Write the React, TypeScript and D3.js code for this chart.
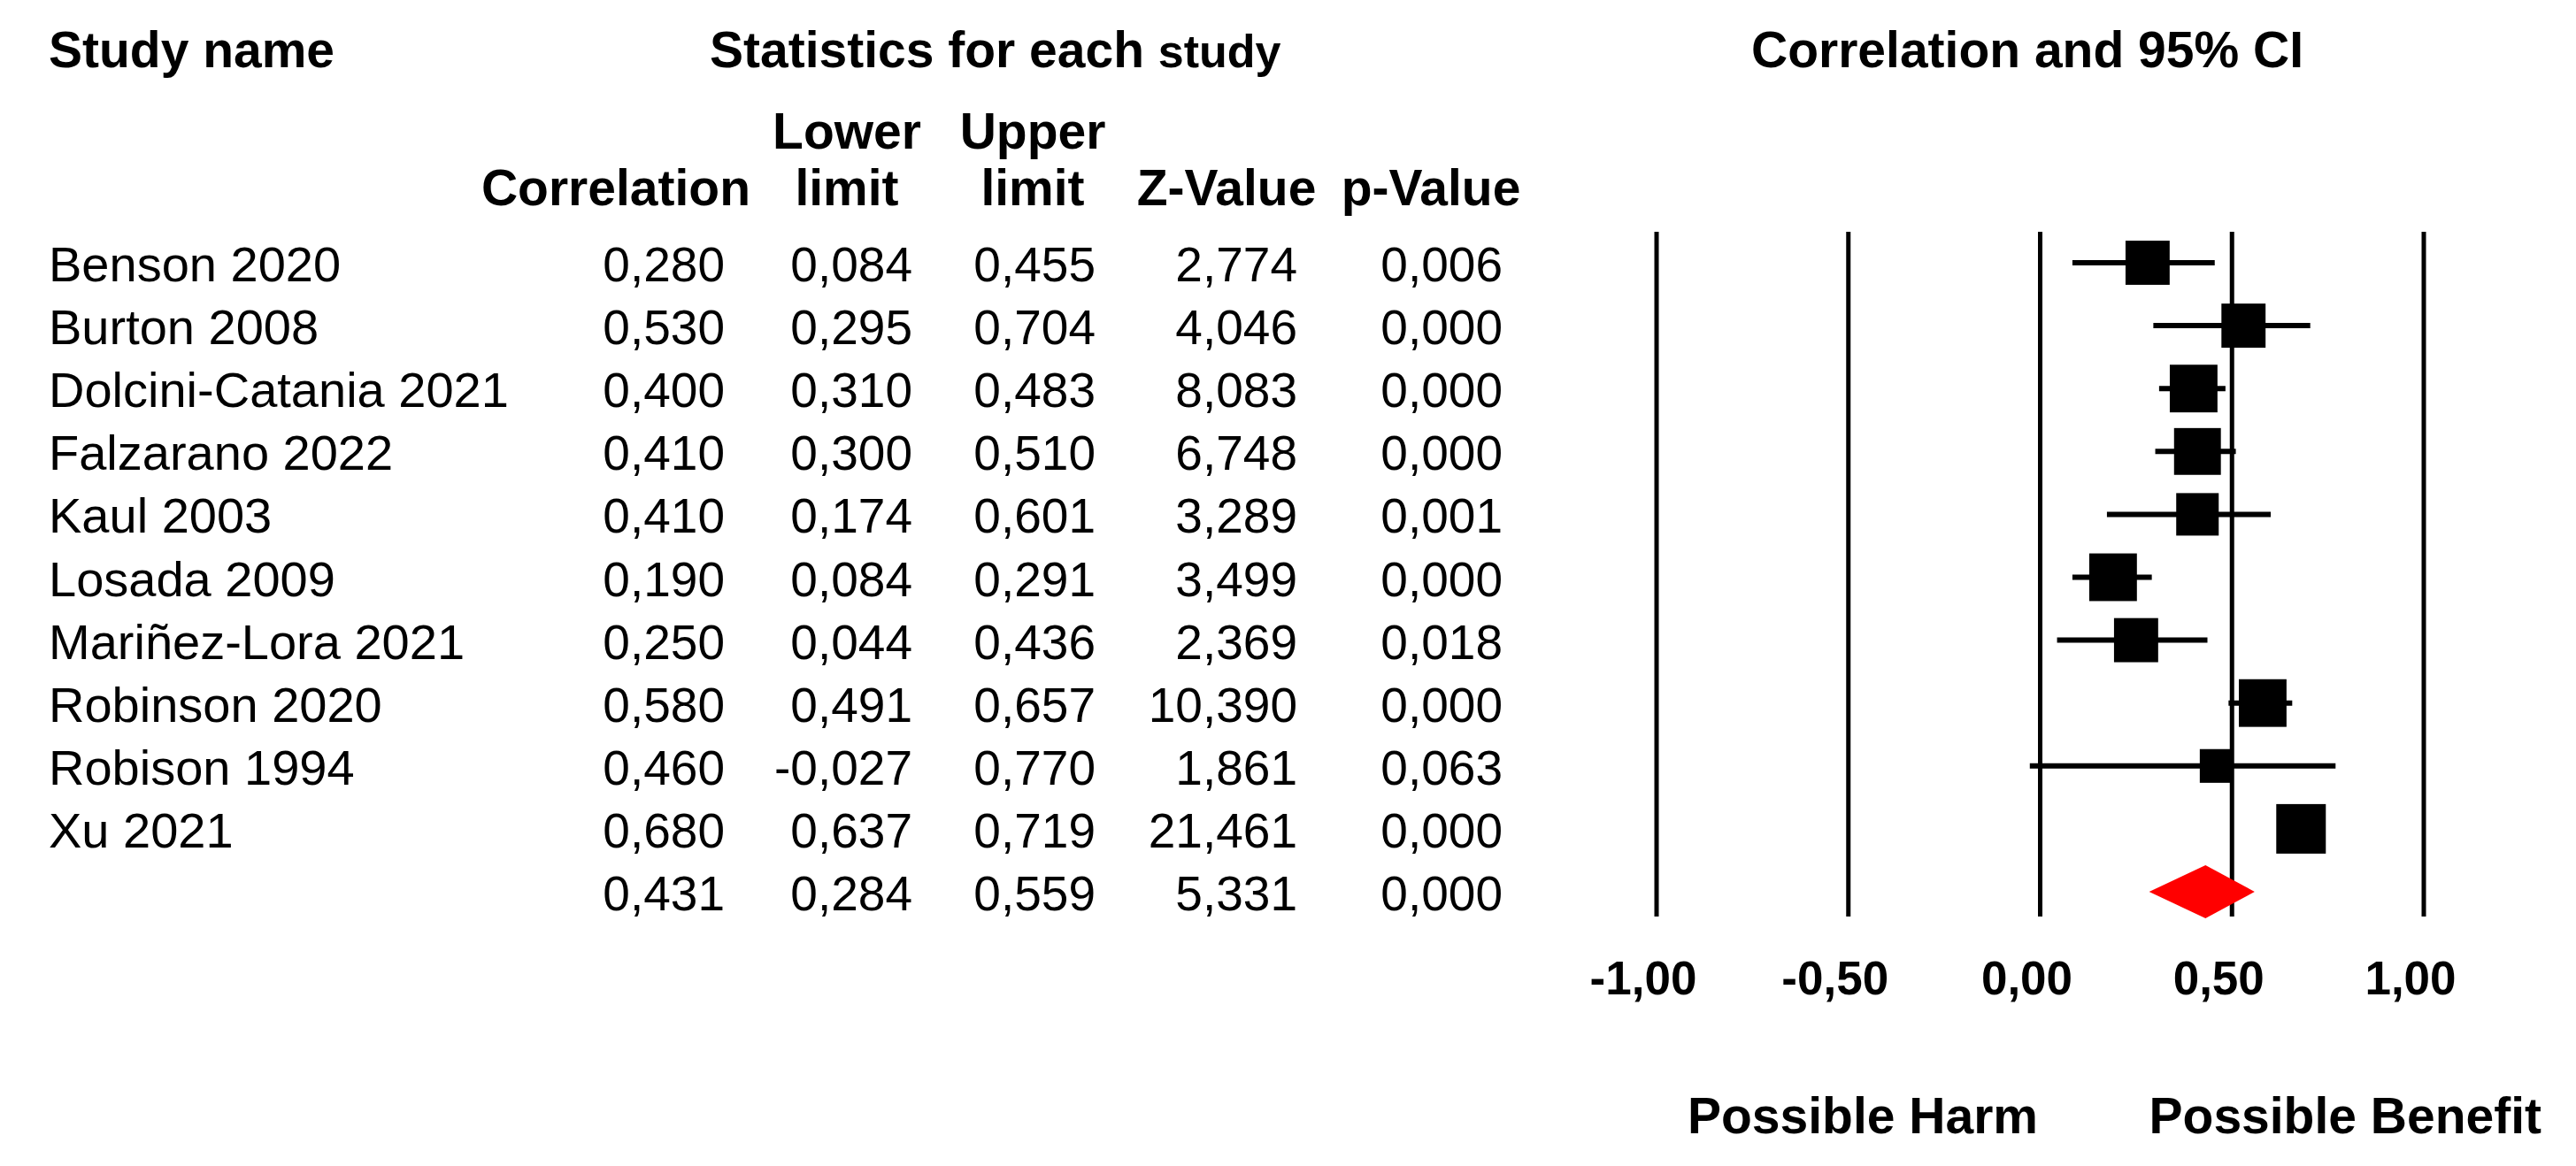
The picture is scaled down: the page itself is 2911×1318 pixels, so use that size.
import React, {useEffect, useRef} from "react";
import * as d3 from "d3";

const studies = [
    "Benson 2020", "Burton 2008", "Dolcini-Catania 2021", "Falzarano 2022", "Kaul 2003",
    "Losada 2009", "Mariñez-Lora 2021", "Robinson 2020", "Robison 1994", "Xu 2021",
];
const correlation = [0.280, 0.530, 0.400, 0.410, 0.410, 0.190, 0.250, 0.580, 0.460, 0.680];
const lowerLimit = [0.084, 0.295, 0.310, 0.300, 0.174, 0.084, 0.044, 0.491, -0.027, 0.637];
const upperLimit = [0.455, 0.704, 0.483, 0.510, 0.601, 0.291, 0.436, 0.657, 0.770, 0.719];
const zValue = [2.774, 4.046, 8.083, 6.748, 3.289, 3.499, 2.369, 10.390, 1.861, 21.461];
const pValue = [0.006, 0.000, 0.000, 0.000, 0.001, 0.000, 0.018, 0.000, 0.063, 0.000];
// relative weights
const weight = [9.6, 9.6, 11.2, 10.8, 8.9, 11.2, 9.6, 11.2, 5.6, 12.1];

const summary = {correlation: 0.431, lower: 0.284, upper: 0.559, z: 5.331, p: 0.000};
const axisTicks = [-1, -0.5, 0, 0.5, 1];

const fmt3 = (v: number) => d3.format(".3f")(v).replace(".", ",").replace("−", "-");
const fmt2 = (v: number) => d3.format(".2f")(v).replace(".", ",").replace("−", "-");

const FONT = "'Liberation Sans', Arial, sans-serif";

function ForestPlot() {
    const ref = useRef<SVGSVGElement>(null);

    useEffect(() => {
        const svg = d3.select(ref.current);
        svg.selectAll("*").remove();
        svg.attr("font-family", FONT);

        // headers
        const head = svg.append("g").attr("font-weight", "bold").attr("font-size", 57);
        head.append("text").attr("x", 55).attr("y", 76).text("Study name");
        const st = head.append("text").attr("x", 802).attr("y", 76);
        st.append("tspan").text("Statistics for each ");
        st.append("tspan").attr("font-size", 52).text("study");
        head.append("text").attr("x", 2291).attr("y", 76).attr("text-anchor", "middle")
            .text("Correlation and 95% CI");

        const colRight = [819, 1031, 1238, 1466, 1698];
        const sub = svg.append("g").attr("font-weight", "bold").attr("font-size", 57);
        sub.append("text").attr("x", 848).attr("y", 232).attr("text-anchor", "end").text("Correlation");
        sub.append("text").attr("x", 957).attr("y", 168).attr("text-anchor", "middle").text("Lower");
        sub.append("text").attr("x", 957).attr("y", 232).attr("text-anchor", "middle").text("limit");
        sub.append("text").attr("x", 1167).attr("y", 168).attr("text-anchor", "middle").text("Upper");
        sub.append("text").attr("x", 1167).attr("y", 232).attr("text-anchor", "middle").text("limit");
        sub.append("text").attr("x", 1386).attr("y", 232).attr("text-anchor", "middle").text("Z-Value");
        sub.append("text").attr("x", 1617).attr("y", 232).attr("text-anchor", "middle").text("p-Value");

        const n = studies.length;
        const y = d3.scaleLinear().domain([0, n]).range([297, 1008]);
        const x = d3.scaleLinear().domain([-1, 1]).range([1872, 2739]);
        const side = d3.scaleSqrt().domain([0, d3.max(weight) as number]).range([0, 56]);

        // table body
        const rows = studies.map((s, i) => ({
            name: s,
            vals: [correlation[i], lowerLimit[i], upperLimit[i], zValue[i], pValue[i]],
        }));
        rows.push({name: "", vals: [summary.correlation, summary.lower, summary.upper, summary.z, summary.p]});

        const body = svg.append("g").attr("font-size", 55);
        const row = body.selectAll("g.row").data(rows).enter().append("g")
            .attr("class", "row")
            .attr("transform", (_d, i) => `translate(0,${y(i) + 21})`);
        row.append("text").attr("x", 55).attr("font-size", 56).text(d => d.name);
        colRight.forEach((cx, j) => {
            row.append("text").attr("x", cx).attr("text-anchor", "end").text(d => fmt3(d.vals[j]));
        });

        // forest plot
        const plot = svg.append("g");
        plot.selectAll("line.grid").data(axisTicks).enter().append("line")
            .attr("x1", d => x(d)).attr("x2", d => x(d))
            .attr("y1", 262).attr("y2", 1036)
            .attr("stroke", "#000").attr("stroke-width", 5);

        plot.selectAll("line.ci").data(studies).enter().append("line")
            .attr("x1", (_d, i) => x(lowerLimit[i])).attr("x2", (_d, i) => x(upperLimit[i]))
            .attr("y1", (_d, i) => y(i)).attr("y2", (_d, i) => y(i))
            .attr("stroke", "#000").attr("stroke-width", 6);

        plot.selectAll("rect.box").data(studies).enter().append("rect")
            .attr("x", (_d, i) => x(correlation[i]) - side(weight[i]) / 2)
            .attr("y", (_d, i) => y(i) - side(weight[i]) / 2)
            .attr("width", (_d, i) => side(weight[i]))
            .attr("height", (_d, i) => side(weight[i]))
            .attr("fill", "#000");

        const sy = y(n);
        const diamond = [
            [x(summary.lower), sy], [x(summary.correlation), sy - 30],
            [x(summary.upper), sy], [x(summary.correlation), sy + 30],
        ];
        plot.append("path")
            .attr("d", (d3.line()(diamond as [number, number][]) || "") + "Z")
            .attr("fill", "#ff0000");

        const ax = svg.append("g").attr("font-weight", "bold").attr("font-size", 53);
        ax.selectAll("text").data(axisTicks).enter().append("text")
            .attr("x", d => x(d) - 15).attr("y", 1124).attr("text-anchor", "middle")
            .text(d => fmt2(d));

        const lab = svg.append("g").attr("font-weight", "bold").attr("font-size", 57);
        lab.append("text").attr("x", 1907).attr("y", 1281).text("Possible Harm");
        lab.append("text").attr("x", 2872).attr("y", 1281).attr("text-anchor", "end").text("Possible Benefit");
    }, []);

    return <svg ref={ref} width={2911} height={1318}
                style={{position: "absolute", left: 0, top: 0, background: "#fff"}}></svg>;
}

export default function App() {
    return <ForestPlot/>;
}
